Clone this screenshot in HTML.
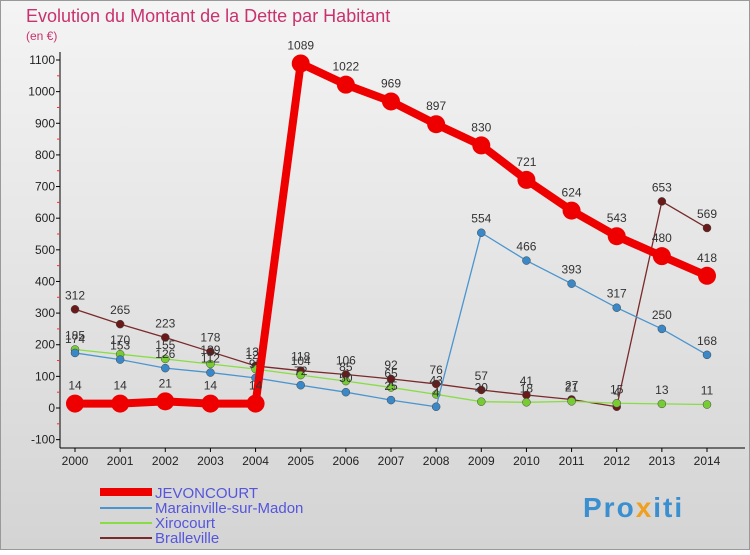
<!DOCTYPE html>
<html><head><meta charset="utf-8"><style>
body{margin:0;width:750px;height:550px;overflow:hidden;font-family:"Liberation Sans",sans-serif}
svg text{font-family:"Liberation Sans",sans-serif}
</style></head><body>
<svg id="c" width="750" height="550">
<defs><linearGradient id="bg" x1="0" y1="0" x2="0" y2="1"><stop offset="0" stop-color="#f4f4f4"/><stop offset="1" stop-color="#d4d4d4"/></linearGradient></defs>
<rect x="0.5" y="0.5" width="749" height="549" fill="url(#bg)" stroke="#999"/>
<text x="26" y="22" font-size="18" fill="#c8326e">Evolution du Montant de la Dette par Habitant</text>
<text x="26" y="40" font-size="12" fill="#c8326e">(en €)</text>
<g id="axes"></g><g id="series"></g>
<g>
<rect x="100" y="488" width="52" height="8" fill="#e00"/>
<text x="155" y="498" font-size="15" fill="#5555dd">JEVONCOURT</text>
<line x1="100" y1="508" x2="152" y2="508" stroke="#4a95cf" stroke-width="2"/>
<text x="155" y="513" font-size="15" fill="#5555dd">Marainville-sur-Madon</text>
<line x1="100" y1="523" x2="152" y2="523" stroke="#88dd44" stroke-width="2"/>
<text x="155" y="528" font-size="15" fill="#5555dd">Xirocourt</text>
<line x1="100" y1="538" x2="152" y2="538" stroke="#7a2a2a" stroke-width="2"/>
<text x="155" y="543" font-size="15" fill="#5555dd">Bralleville</text>
</g>
<text x="583" y="517" font-size="28" font-weight="bold" letter-spacing="2" fill="#3a8fd0">Pro<tspan fill="#f0a020">x</tspan>iti</text>
</svg>
<script>
const years=[2000,2001,2002,2003,2004,2005,2006,2007,2008,2009,2010,2011,2012,2013,2014];
const yTicks=[-100,0,100,200,300,400,500,600,700,800,900,1000,1100];
const jevoncourt=[14,14,21,14,14,1089,1022,969,897,830,721,624,543,480,418];
const marainville=[174,153,126,112,95,72,50,25,4,554,466,393,317,250,168];
const xirocourt=[185,170,155,139,123,104,85,65,43,20,18,21,15,13,11];
const bralleville=[312,265,223,178,133,118,106,92,76,57,41,27,4,653,569];
const NS="http://www.w3.org/2000/svg";
const X=i=>75+i*(707-75)/14;
const Y=v=>408-v*(408-60)/1100;
function mk(t,a,p){const e=document.createElementNS(NS,t);for(const k in a)e.setAttribute(k,a[k]);p.appendChild(e);return e;}
const ax=document.getElementById('axes'),sr=document.getElementById('series');
const yl=mk('line',{x1:60,y1:52,x2:60,y2:448,stroke:'#000'},ax);


const xl=mk('line',{x1:60,y1:448,x2:745,y2:448,stroke:'#000'},ax);


yTicks.forEach((v,k)=>{
 mk('line',{x1:56,y1:Y(v),x2:60,y2:Y(v),stroke:'#000'},ax);
 if(k<yTicks.length-1) mk('line',{x1:57,y1:Y(v+50),x2:60,y2:Y(v+50),stroke:'#e33'},ax);
 const t=mk('text',{x:55,y:Y(v)+4,'font-size':12,'text-anchor':'end',fill:'#222'},ax);t.textContent=v;
 
 
});
years.forEach((y,i)=>{
 mk('line',{x1:X(i),y1:448,x2:X(i),y2:452,stroke:'#000'},ax);
 const t=mk('text',{x:X(i),y:465,'font-size':12,'text-anchor':'middle',fill:'#222'},ax);t.textContent=y;
 
 
});
function series(data,color,w,r,name,dot){
 const g=mk('g',{},sr);
 
 
 const p=mk('polyline',{points:data.map((v,i)=>X(i)+','+Y(v)).join(' '),fill:'none',stroke:color,'stroke-width':w},g);
 
 
 data.forEach((v,i)=>{
  const c=mk('circle',{cx:X(i),cy:Y(v),r:r,fill:dot,stroke:'#444','stroke-width':r>5?0:0.5},g);
  
  
  const t=mk('text',{x:X(i),y:Y(v)-(r>5?14:10),'font-size':12,'text-anchor':'middle',fill:'#333'},g);t.textContent=v;
  
  
 });
}
series(bralleville,'#7a2a2a',1.3,4,'bralleville','#6b1a1a');
series(xirocourt,'#88dd44',1.3,4,'xirocourt','#77cc33');
series(marainville,'#4a95cf',1.3,4,'marainville','#3a88c8');
series(jevoncourt,'#ee0000',8,9,'jevoncourt','#ee0000');
</script>
</body></html>
